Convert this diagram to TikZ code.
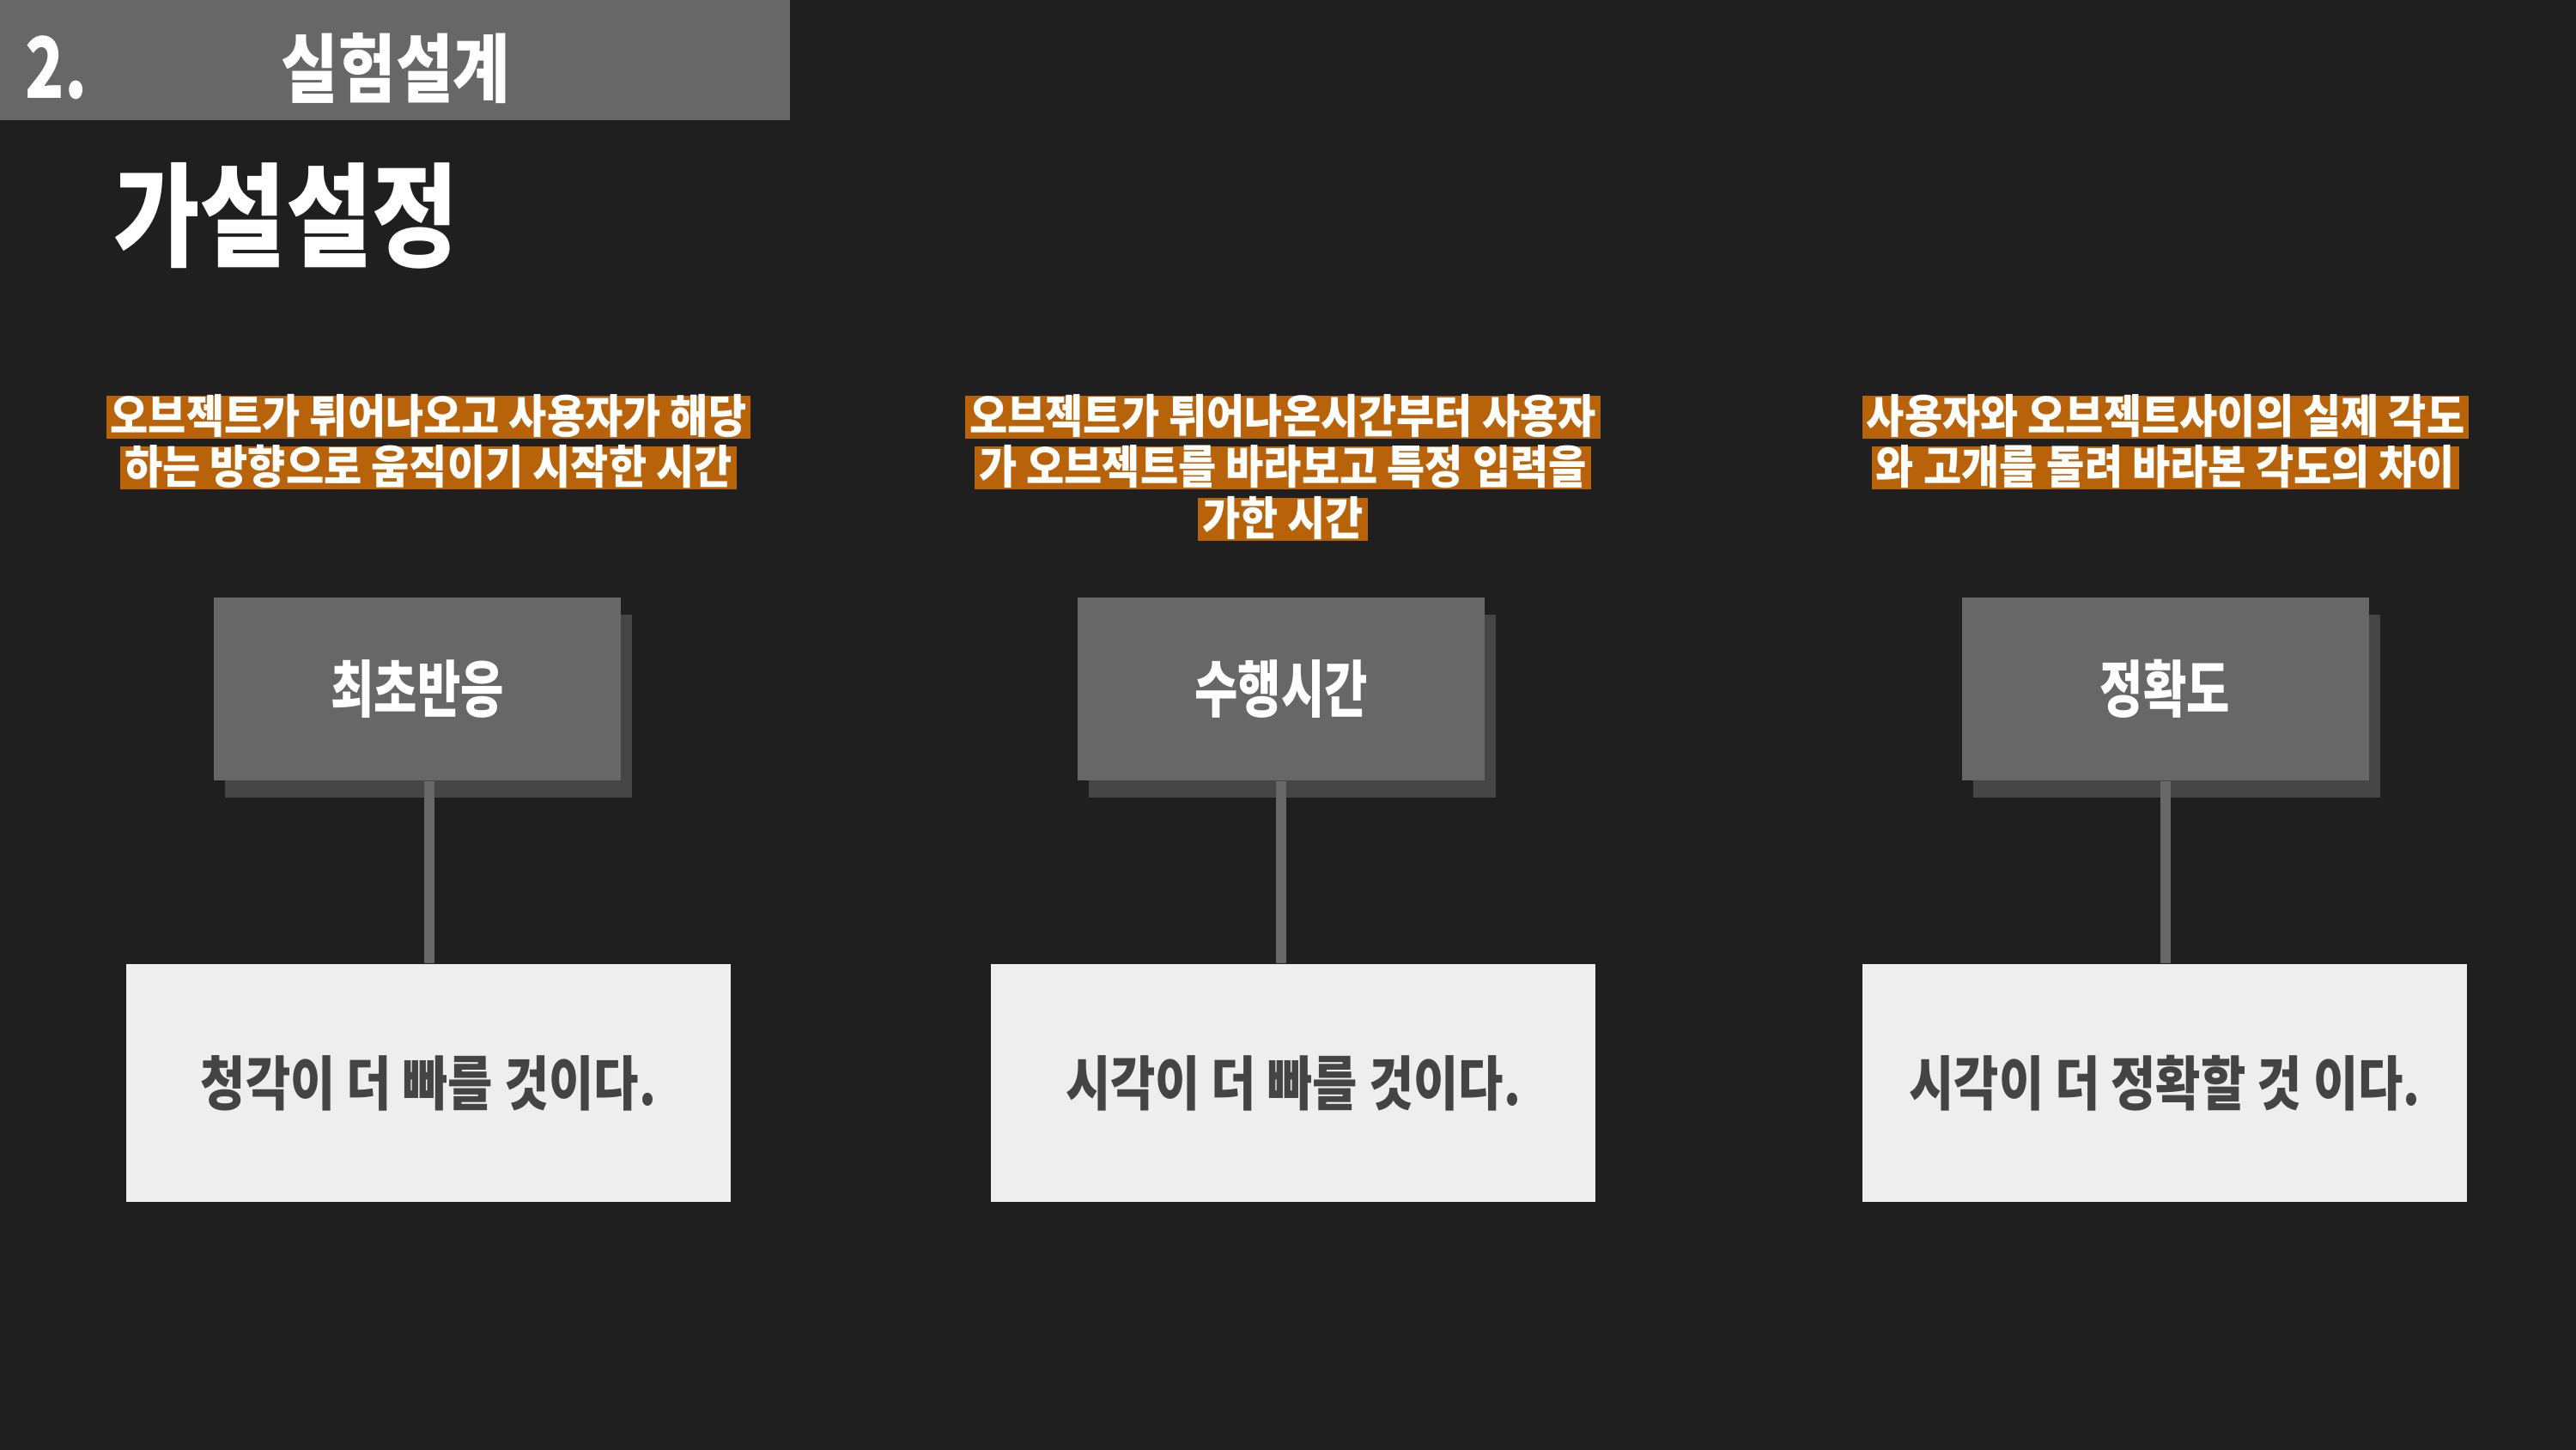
\documentclass[tikz,border=0pt]{standalone}
\usepackage{fontspec}
\setmainfont{Noto Sans CJK KR}[FakeStretch=0.76]
\newfontfamily\hlfont{Noto Sans CJK KR}[FakeStretch=0.9]
\newfontfamily\headfont{Noto Sans CJK KR}[FakeStretch=0.83]
\definecolor{bg}{HTML}{1F1F1F}
\definecolor{barg}{HTML}{676767}
\definecolor{shade}{HTML}{454545}
\definecolor{paper}{HTML}{EEEEEE}
\definecolor{ink}{HTML}{444444}
\definecolor{hl}{HTML}{B8620A}
\begin{document}
\begin{tikzpicture}[
  hltext/.style={fill=hl, text=white, font=\hlfont\bfseries\fontsize{15.2}{16}\selectfont, inner xsep=0.05cm, inner ysep=0, text height=0.44cm, text depth=0.06cm},
  graybox/.style={fill=barg, text=white, minimum width=4.74cm, minimum height=2.13cm, inner sep=0, font=\bfseries\fontsize{20.5}{22}\selectfont},
  shadowbox/.style={fill=shade, minimum width=4.74cm, minimum height=2.13cm, inner sep=0},
  whitebox/.style={fill=paper, text=ink, minimum width=7.04cm, minimum height=2.77cm, inner sep=0, font=\headfont\bfseries\fontsize{19.5}{21}\selectfont},
  link/.style={draw=barg, line width=0.12cm}
]
\useasboundingbox (0,0) rectangle (30,16.88);
\fill[bg] (-0.1,-0.1) rectangle (30.1,16.98);
\fill[barg] (-0.1,15.48) rectangle (9.2,16.98);
\node[text=white, font=\bfseries\fontsize{28}{30}\selectfont, inner sep=0] (num) at (0.655,16.095) {2.};
\node[text=white, font=\headfont\bfseries\fontsize{24.8}{26}\selectfont, inner sep=0] (sec) at (4.61,16.085) {실험설계};
\node[text=white, font=\headfont\bfseries\fontsize{37.4}{40}\selectfont, inner sep=0] (title) at (3.33,14.365) {가설설정};
% orange lines above each box
\foreach \x/\y/\txt [count=\n] in {
4.99/12.02/오브젝트가 튀어나오고 사용자가 해당,
4.99/11.43/하는 방향으로 움직이기 시작한 시간,
14.94/12.02/오브젝트가 튀어나온시간부터 사용자,
14.94/11.43/가 오브젝트를 바라보고 특정 입력을,
14.94/10.83/가한 시간,
25.22/12.02/사용자와 오브젝트사이의 실제 각도,
25.22/11.43/와 고개를 돌려 바라본 각도의 차이}
{
  \node[hltext] (t\n) at (\x,\y) {\txt};
}
\foreach \gx/\wx/\lx/\top/\hyp [count=\i] in {
4.86/4.99/5.00/최초반응/청각이 더 빠를 것이다.,
14.92/15.06/14.92/수행시간/시각이 더 빠를 것이다.,
25.215/25.21/25.22/정확도/시각이 더 정확할 것 이다.}
{
  \node[shadowbox] (s\i) at (\gx+0.13,8.655) {};
  \node[graybox] (g\i) at (\gx,8.855) {\top};
  \node[whitebox] (w\i) at (\wx,4.265) {\hyp};
  \draw[link] (g\i.south -| \lx,0) -- (w\i.north -| \lx,0);
}
\end{tikzpicture}
\end{document}
